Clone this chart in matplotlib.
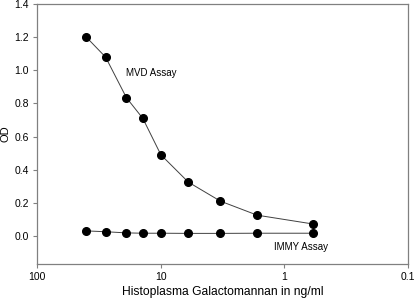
import numpy as np
import matplotlib
matplotlib.use("Agg")
import matplotlib.pyplot as plt

plt.rcParams['font.family'] = ['Liberation Sans', 'DejaVu Sans']

conc = [40, 28, 19, 14, 10, 6.0, 3.3, 1.66, 0.59]
mvd = [1.20, 1.08, 0.835, 0.71, 0.49, 0.325, 0.21, 0.125, 0.072]
immy = [0.03, 0.025, 0.018, 0.016, 0.016, 0.015, 0.015, 0.016, 0.016]

yticks = [0.0, 0.2, 0.4, 0.6, 0.8, 1.0, 1.2, 1.4]
xticks = [100, 10, 1, 0.1]
xticklabels = ["100", "10", "1", "0.1"]

fig = plt.figure(figsize=(4.16, 3.0), dpi=100)
ax = fig.add_axes([0.0897, 0.12, 0.891, 0.866])

ax.plot(conc, mvd, color='#404040', linewidth=0.7, marker='o',
        markersize=5.5, markerfacecolor='black', markeredgecolor='black')
ax.plot(conc, immy, color='#404040', linewidth=0.7, marker='o',
        markersize=5.5, markerfacecolor='black', markeredgecolor='black')

ax.set_xscale('log')
ax.set_xlim(100, 0.1)
ax.set_ylim(-0.17, 1.4)
ax.set_xticks(xticks)
ax.set_xticklabels(xticklabels)
ax.xaxis.set_minor_locator(matplotlib.ticker.NullLocator())
ax.set_yticks(yticks)
ax.set_yticklabels(["%.1f" % v for v in yticks])

for s in ax.spines.values():
    s.set_color('#808080')
    s.set_linewidth(0.9)
ax.tick_params(direction='out', length=3, width=0.8, color='#808080',
               labelsize=7.5, pad=3)

ax.text(19, 0.985, "MVD Assay", fontsize=7, va='center', ha='left')
ax.text(1.22, -0.066, "IMMY Assay", fontsize=7, va='center', ha='left')

ax.set_ylabel("OD", fontsize=8, va='center')
ax.yaxis.set_label_coords(-0.087, 0.5)
ax.set_xlabel("Histoplasma Galactomannan in ng/ml", fontsize=8.7, labelpad=3)

fig.savefig("out.png", dpi=100)
